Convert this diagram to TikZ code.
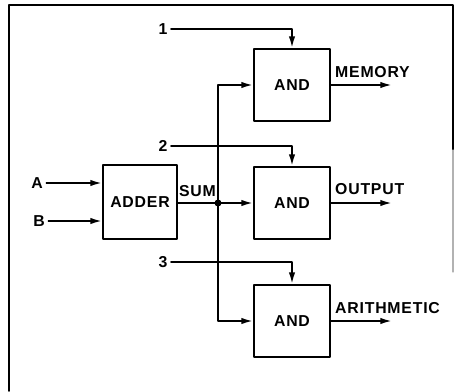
\documentclass[tikz,border=0pt]{standalone}
\usepackage{fontspec}
\setmainfont{Liberation Sans}[LetterSpace=5]
\usetikzlibrary{arrows.meta, positioning}

\begin{document}
\begin{tikzpicture}[
        x=0.03cm,
        y=-0.03cm,
        line join=round,
        line cap=round,
        font=\bfseries\fontsize{13.5}{15}\selectfont,
        gate/.style={draw, line width=1.6pt, minimum width=2.28cm,
            minimum height=2.16cm, inner sep=0pt},
        wire/.style={line width=1.6pt},
        feed/.style={wire, -{Latex[length=10pt, width=5.5pt]}},
        tag/.style={inner sep=3pt}
    ]

        % =================================
        % KHUNG
        % =================================
        \useasboundingbox (0,0) rectangle (454,391);
        \draw[line width=1.6pt]
            (9,391) -- (9,5) -- (453,5) -- (453,150);
        \draw[line width=1pt, gray!60]
            (453,150) -- (453,272);

        % =================================
        % CÁC KHỐI
        % =================================
        \node[gate, minimum width=2.22cm, minimum height=2.22cm]
            (adder) at (140,202) {ADDER};
        \node[gate] (and1) at (292,85) {AND};
        \node[gate] (and2) at (292,203) {AND};
        \node[gate] (and3) at (292,321) {AND};

        % =================================
        % NHÃN ĐẦU VÀO
        % =================================
        \node[tag] (inA) at (37,183) {A};
        \node[tag] (inB) at (39,221) {B};
        \node[tag] (in1) at (163,29) {1};
        \node[tag] (in2) at (163,146) {2};
        \node[tag] (in3) at (163,262) {3};

        % A, B vào bộ cộng
        \draw[feed] (inA) -- (adder.west |- inA);
        \draw[feed] (inB) -- (adder.west |- inB);

        % =================================
        % ĐƯỜNG SUM
        % =================================
        \coordinate (jn) at (218,203);
        \draw[wire] (adder.east |- jn) -- (jn);
        \fill (jn) circle[radius=3.5];
        \node[anchor=south east, inner sep=0pt] at (216,197) {SUM};

        \draw[feed] (jn) |- (and1.west);
        \draw[feed] (jn) -- (and2.west);
        \draw[feed] (jn) |- (and3.west);

        % 1, 2, 3 vào cổng AND
        \draw[feed] (in1) -| (and1.north);
        \draw[feed] (in2) -| (and2.north);
        \draw[feed] (in3) -| (and3.north);

        % =================================
        % ĐẦU RA
        % =================================
        \coordinate (outM) at (392,85);
        \coordinate (outO) at (392,203);
        \coordinate (outA) at (392,321);

        \draw[feed] (and1.east) -- (outM);
        \draw[feed] (and2.east) -- (outO);
        \draw[feed] (and3.east) -- (outA);

        \node[anchor=west, inner sep=0pt] at (335,72) {MEMORY};
        \node[anchor=west, inner sep=0pt] at (335,189) {OUTPUT};
        \node[anchor=west, inner sep=0pt] at (335,308) {ARITHMETIC};

    \end{tikzpicture}
\end{document}
